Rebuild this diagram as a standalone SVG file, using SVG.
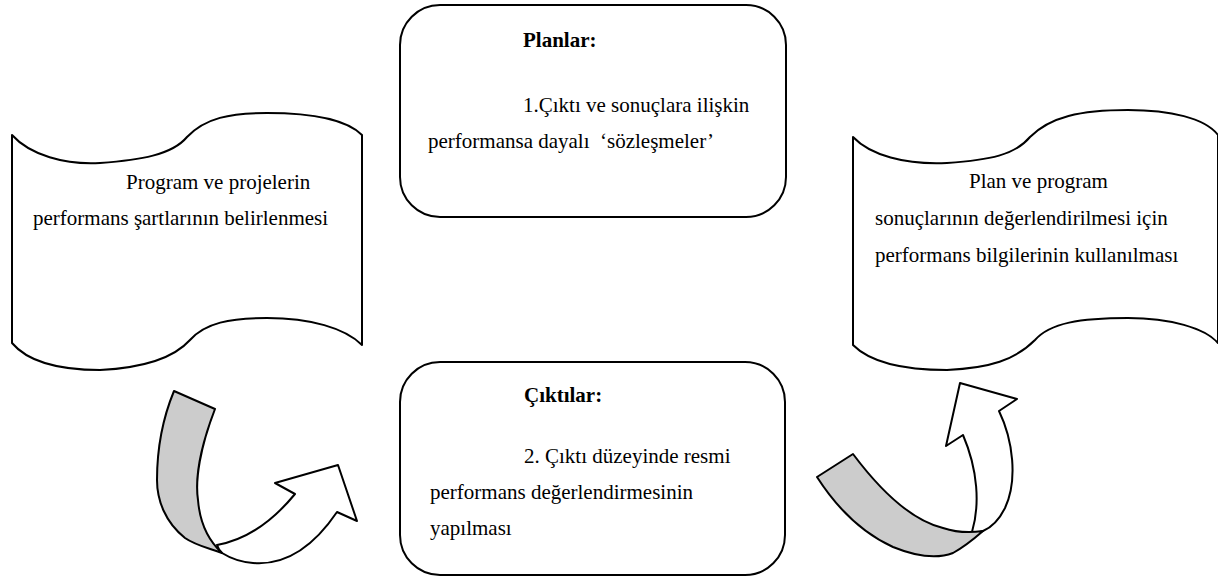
<svg xmlns="http://www.w3.org/2000/svg" width="1218" height="577" viewBox="0 0 1218 577">
<style>
.shape{fill:#ffffff;stroke:#000000;stroke-width:2;stroke-linejoin:round}
.band{fill:#cccccc;stroke:#000000;stroke-width:2;stroke-linejoin:round}
.t{font-family:"Times New Roman","Liberation Serif",Tinos,serif;font-size:21px;fill:#000000}
.b{font-weight:bold}
</style>
<rect x="0" y="0" width="1218" height="577" fill="#ffffff"/>
<g id="scroll-left">
<path class="shape" d="M12,135 C30,155 65,165 100,163 C140,160 172,155 187,137 C205,118 230,113 267,113 C310,113 345,118 362,135 L362,345 C345,328 310,318 267,318 C230,318 205,323 190,340 C172,360 140,368 100,370 C60,370 28,362 12,343 Z"/>
<text class="t" x="126" y="189">Program ve projelerin</text>
<text class="t" x="33" y="225">performans şartlarının belirlenmesi</text>
</g>
<g id="box-plans">
<rect class="shape" x="400" y="5" width="386" height="212" rx="40" ry="40"/>
<text class="t b" x="523" y="47">Planlar:</text>
<text class="t" x="523" y="112">1.Çıktı ve sonuçlara ilişkin</text>
<text class="t" x="428" y="148">performansa dayalı&#160; ‘sözleşmeler’</text>
</g>
<g id="scroll-right">
<path class="shape" d="M853,137 C870,155 905,165 947,163 C990,160 1015,155 1030,137 C1050,117 1080,110 1128,110 C1170,110 1205,118 1218,135 L1218,343 C1205,328 1170,318 1128,318 C1080,318 1050,323 1035,340 C1015,360 990,368 947,370 C900,370 870,362 853,345 Z"/>
<text class="t" x="969" y="188">Plan ve program</text>
<text class="t" x="875" y="225">sonuçlarının değerlendirilmesi için</text>
<text class="t" x="875" y="262">performans bilgilerinin kullanılması</text>
</g>
<g id="box-outputs">
<rect class="shape" x="400" y="362" width="385" height="213" rx="40" ry="40"/>
<text class="t b" x="524" y="402">Çıktılar:</text>
<text class="t" x="524" y="463">2. Çıktı düzeyinde resmi</text>
<text class="t" x="430" y="499">performans değerlendirmesinin</text>
<text class="t" x="430" y="535">yapılması</text>
</g>
<g id="connectors">
<g id="arrow-left">
<path class="shape" d="M217,545 C245,540 272,522 295,494 L275,483 L338,465 L357,521 L337,512 C318,540 290,566 253,563 C240,562 230,558 222,553 C219,550 218,548 217,545 Z"/>
<path class="band" d="M174,391 L215,409 C200,448 195,480 198,500 C200,525 210,542 222,553 C205,547 195,545 185,538 C165,522 157,500 157,480 C157,450 162,420 174,391 Z"/>
</g>
<g id="arrow-right">
<path class="shape" d="M972,532 C980,505 978,470 963,435 L946,446 L960,383 L1017,399 L999,411 C1013,440 1018,480 1005,508 C998,522 990,528 983,531 C978,533 975,533 972,532 Z"/>
<path class="band" d="M817,477 L853,454 C880,490 910,520 943,528 C955,532 970,533 983,531 C975,538 962,548 953,553 C940,558 920,558 893,547 C860,532 835,505 817,477 Z"/>
</g>
</g>
</svg>
